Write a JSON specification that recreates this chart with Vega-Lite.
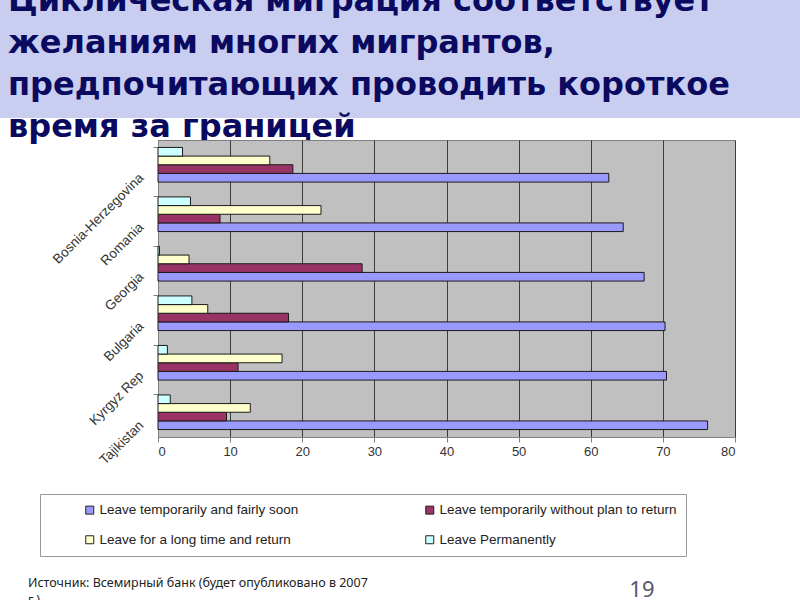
{
  "$schema": "https://vega.github.io/schema/vega-lite/v6.json",
  "padding": 0,
  "background": "white",
  "spacing": 22,
  "bounds": "flush",
  "center": true,
  "resolve": {"scale": {"color": "independent"}, "legend": {"color": "independent"}},
  "title": {
    "text": ["Источник: Всемирный банк (будет опубликовано в 2007", "г.)"],
    "orient": "bottom",
    "anchor": "start",
    "dx": 28,
    "offset": -24,
    "font": "Noto Sans",
    "fontSize": 12.5,
    "fontWeight": "normal",
    "color": "#222222",
    "lineHeight": 17
  },
  "datasets": {
    "heading": [
      {"line": 1, "text": "Циклическая миграция соответствует"},
      {"line": 2, "text": "желаниям многих мигрантов,"},
      {"line": 3, "text": "предпочитающих проводить короткое"},
      {"line": 4, "text": "время за границей"}
    ],
    "migration": [
      {"country": "Bosnia-Herzegovina", "series": "Leave temporarily and fairly soon", "value": 62.5},
      {"country": "Bosnia-Herzegovina", "series": "Leave temporarily without plan to return", "value": 18.7},
      {"country": "Bosnia-Herzegovina", "series": "Leave for a long time and return", "value": 15.5},
      {"country": "Bosnia-Herzegovina", "series": "Leave Permanently", "value": 3.4},
      {"country": "Romania", "series": "Leave temporarily and fairly soon", "value": 64.5},
      {"country": "Romania", "series": "Leave temporarily without plan to return", "value": 8.6},
      {"country": "Romania", "series": "Leave for a long time and return", "value": 22.6},
      {"country": "Romania", "series": "Leave Permanently", "value": 4.5},
      {"country": "Georgia", "series": "Leave temporarily and fairly soon", "value": 67.4},
      {"country": "Georgia", "series": "Leave temporarily without plan to return", "value": 28.3},
      {"country": "Georgia", "series": "Leave for a long time and return", "value": 4.3},
      {"country": "Georgia", "series": "Leave Permanently", "value": 0.2},
      {"country": "Bulgaria", "series": "Leave temporarily and fairly soon", "value": 70.3},
      {"country": "Bulgaria", "series": "Leave temporarily without plan to return", "value": 18.1},
      {"country": "Bulgaria", "series": "Leave for a long time and return", "value": 6.9},
      {"country": "Bulgaria", "series": "Leave Permanently", "value": 4.7},
      {"country": "Kyrgyz Rep", "series": "Leave temporarily and fairly soon", "value": 70.5},
      {"country": "Kyrgyz Rep", "series": "Leave temporarily without plan to return", "value": 11.1},
      {"country": "Kyrgyz Rep", "series": "Leave for a long time and return", "value": 17.2},
      {"country": "Kyrgyz Rep", "series": "Leave Permanently", "value": 1.3},
      {"country": "Tajikistan", "series": "Leave temporarily and fairly soon", "value": 76.2},
      {"country": "Tajikistan", "series": "Leave temporarily without plan to return", "value": 9.5},
      {"country": "Tajikistan", "series": "Leave for a long time and return", "value": 12.8},
      {"country": "Tajikistan", "series": "Leave Permanently", "value": 1.7}
    ]
  },
  "vconcat": [
    {
      "width": 893,
      "height": 118,
      "view": {"fill": "#c9cdef", "stroke": null},
      "data": {"name": "heading"},
      "encoding": {
        "x": {"value": 8},
        "y": {
          "field": "line",
          "type": "ordinal",
          "scale": {"type": "point", "domain": [1, 2, 3, 4], "range": [11, 137], "padding": 0},
          "axis": null
        },
        "text": {"field": "text"}
      },
      "layer": [
        {
          "transform": [{"filter": "datum.line <= 3"}],
          "mark": {"type": "text", "clip": true, "align": "left", "baseline": "alphabetic", "font": "DejaVu Sans", "fontWeight": "bold", "fontSize": 32, "color": "#0a0a60"}
        },
        {
          "transform": [{"filter": "datum.line == 4"}],
          "mark": {"type": "text", "align": "left", "baseline": "alphabetic", "font": "DejaVu Sans", "fontWeight": "bold", "fontSize": 32, "color": "#0a0a60"}
        }
      ]
    },
    {
      "width": 577,
      "height": 297,
      "view": {"fill": "#c0c0c0", "stroke": "#808080"},
      "data": {"name": "migration"},
      "title": {
        "text": "19",
        "orient": "bottom",
        "anchor": "end",
        "dx": -81,
        "offset": 23,
        "font": "Noto Sans",
        "fontSize": 22,
        "fontWeight": "normal",
        "color": "#55576e"
      },
      "mark": {"type": "bar", "stroke": "#1a1a1a", "strokeWidth": 1},
      "encoding": {
        "x": {
          "field": "value",
          "type": "quantitative",
          "scale": {"domain": [0, 80], "nice": false},
          "axis": {
            "title": null,
            "values": [0, 10, 20, 30, 40, 50, 60, 70, 80],
            "grid": true,
            "gridColor": "#3c3c3c",
            "gridWidth": 1,
            "domainColor": "#808080",
            "tickColor": "#808080",
            "tickSize": 5,
            "labelFont": "Liberation Sans",
            "labelFontSize": 13,
            "labelColor": "#333333",
            "labelPadding": 3
          }
        },
        "y": {
          "field": "country",
          "type": "nominal",
          "sort": ["Bosnia-Herzegovina", "Romania", "Georgia", "Bulgaria", "Kyrgyz Rep", "Tajikistan"],
          "scale": {"paddingInner": 0.3, "paddingOuter": 0.15},
          "axis": {
            "title": null,
            "bandPosition": 0,
            "labelAngle": -45,
            "labelAlign": "right",
            "labelBaseline": "middle",
            "labelOffset": 11,
            "labelPadding": 12,
            "tickSize": 5,
            "tickColor": "#808080",
            "domainColor": "#808080",
            "labelFont": "Liberation Sans",
            "labelFontSize": 13.5,
            "labelColor": "#333333",
            "grid": false
          }
        },
        "yOffset": {
          "field": "series",
          "type": "nominal",
          "sort": ["Leave Permanently", "Leave for a long time and return", "Leave temporarily without plan to return", "Leave temporarily and fairly soon"],
          "scale": {"paddingInner": 0, "paddingOuter": 0}
        },
        "color": {
          "field": "series",
          "type": "nominal",
          "scale": {
            "domain": ["Leave temporarily and fairly soon", "Leave temporarily without plan to return", "Leave for a long time and return", "Leave Permanently"],
            "range": ["#9999ff", "#993366", "#ffffcc", "#ccffff"]
          },
          "legend": {
            "orient": "none",
            "legendX": -118,
            "legendY": 354,
            "direction": "horizontal",
            "columns": 2,
            "columnPadding": 124,
            "rowPadding": 15,
            "title": " ",
            "titleOrient": "left",
            "titlePadding": 34,
            "padding": 9,
            "strokeColor": "#999999",
            "fillColor": "white",
            "symbolType": "square",
            "symbolSize": 64,
            "symbolStrokeColor": "#222222",
            "symbolStrokeWidth": 1,
            "symbolOpacity": 1,
            "labelFont": "Liberation Sans",
            "labelFontSize": 13.5,
            "labelColor": "#222222",
            "labelOffset": 3,
            "labelLimit": 400
          }
        }
      }
    }
  ],
  "config": {
    "view": {"stroke": null},
    "font": "Liberation Sans"
  }
}
